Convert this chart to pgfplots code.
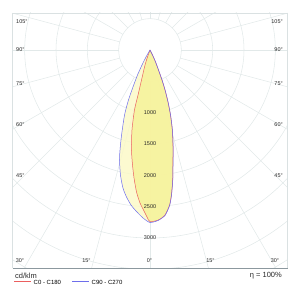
\documentclass[border=0pt]{standalone}
\usepackage{pgfplots}
\pgfplotsset{compat=1.18}
\usepackage{pgfplotstable}
\usepackage{fontspec}
\setmainfont{Liberation Sans}
\definecolor{gridc}{RGB}{226,233,233}
\definecolor{framec}{RGB}{218,225,226}
\definecolor{basec}{RGB}{140,152,158}
\definecolor{redc}{RGB}{235,95,95}
\definecolor{bluec}{RGB}{110,110,235}
\definecolor{paley}{RGB}{251,249,200}
\definecolor{darky}{RGB}{246,242,150}
\definecolor{txt}{RGB}{40,40,40}

% C0 - C180 : negative g = C180 side (left), positive g = C0 side (right)
\pgfplotstableread{
g I
-22 0
-19.7 119
-18.4 252
-15.8 498
-14.9 743
-14.5 989
-12.7 1308
-10.5 1623
-8.65 1856
-7.12 2058
-5.43 2276
-3.74 2447
-2.33 2555
-1.03 2665
0 2740
2.8 2716
5.2 2644
7.2 2493
8.4 2339
9.9 2106
11.8 1793
13.6 1560
15.6 1325
17.5 1088
19.1 878
20.6 682
21.8 516
23.0 347
25.0 200
26.6 90
30 0
}\redtab

% C90 - C270 : negative g = C270 side (left), positive g = C90 side (right)
\pgfplotstableread{
g I
-33 0
-29.7 129
-28.1 271
-26.6 446
-24.7 650
-23.3 869
-21.4 1114
-18.5 1431
-16.7 1666
-15.5 1822
-13.3 2049
-11.1 2244
-9.08 2376
-6.99 2492
-4.97 2579
-2.39 2683
0 2753
2.8 2722
5.2 2650
7.2 2500
8.4 2345
9.9 2112
11.8 1799
13.6 1566
15.6 1330
17.5 1093
19.1 882
20.6 686
21.8 520
23.0 350
25.0 202
26.6 91
30 0
}\bluetab

\def\PX#1{((#1)-150)*15.957}
\def\PY#1{(50-(#1))*15.957}

\begin{document}
\begin{tikzpicture}
\begin{axis}[
  width=300pt, height=298pt, scale only axis,
  xmin=-2393.6, xmax=2393.6, ymin=-3957.4, ymax=797.9,
  hide axis, clip=false,
  legend columns=2,
  legend style={at={(axis cs:{\PX{14}},{\PY{283.5}})}, anchor=west, draw=none, fill=none,
    inner sep=0pt, outer sep=0pt,
    font=\fontsize{6}{7}\selectfont,
    /tikz/every even column/.append style={column sep=9pt}},
]
\path (rel axis cs:0,0) rectangle (rel axis cs:1,1);
\begin{scope}
\clip (axis cs:{\PX{12.5}},{\PY{268}}) rectangle (axis cs:{\PX{287.5}},{\PY{13}});
\pgfplotsinvokeforeach{500,1000,1500,2000,2500,3000,3500,4000,4500,5000}{
  \draw[gridc, line width=0.55pt] (axis cs:0,0) circle[radius=#1];
}
\pgfplotsinvokeforeach{-165,-150,-135,-120,-105,-90,-75,-60,-45,-30,-15,0,15,30,45,60,75,90,105,120,135,150,165,180}{
  \draw[gridc, line width=0.55pt] (axis cs:{500*sin(#1)},{-500*cos(#1)}) -- (axis cs:{6000*sin(#1)},{-6000*cos(#1)});
}
\end{scope}
% frame
\draw[framec, line width=0.6pt] (axis cs:{\PX{12.5}},{\PY{268}}) -- (axis cs:{\PX{12.5}},{\PY{13}}) -- (axis cs:{\PX{287.5}},{\PY{13}}) -- (axis cs:{\PX{287.5}},{\PY{268}});
\draw[basec, line width=0.8pt] (axis cs:{\PX{12.5}},{\PY{268}}) -- (axis cs:{\PX{287.5}},{\PY{268}});

% fills
\addplot[draw=none, fill=paley, fill opacity=0.85, forget plot]
  table[x expr={\thisrow{I}*sin(\thisrow{g})}, y expr={-\thisrow{I}*cos(\thisrow{g})}] {\bluetab};
\addplot[draw=none, fill=darky, fill opacity=0.8, forget plot]
  table[x expr={\thisrow{I}*sin(\thisrow{g})}, y expr={-\thisrow{I}*cos(\thisrow{g})}] {\redtab};
% curves
\addplot[color=redc, line width=0.5pt, smooth, tension=0.4, forget plot]
  table[x expr={\thisrow{I}*sin(\thisrow{g})}, y expr={-\thisrow{I}*cos(\thisrow{g})}] {\redtab};
\addplot[color=bluec, line width=0.5pt, smooth, tension=0.4, forget plot]
  table[x expr={\thisrow{I}*sin(\thisrow{g})}, y expr={-\thisrow{I}*cos(\thisrow{g})}] {\bluetab};
\addlegendimage{legend image code/.code={\draw[draw=redc, line width=0.7pt] (0pt,2pt) -- (17pt,2pt);}}
\addlegendentry{C0 - C180}
\addlegendimage{legend image code/.code={\draw[draw=bluec, line width=0.7pt] (0pt,2pt) -- (17pt,2pt);}}
\addlegendentry{C90 - C270}

% ring labels
\pgfplotsinvokeforeach{1000,1500,2000,2500,3000}{
  \node[txt, font=\fontsize{5.5}{6}\selectfont, inner sep=0pt] at (axis cs:0,{-#1}) {#1};
}
% angle labels, left and right
\begin{scope}[every node/.style={txt, font=\fontsize{5.5}{6}\selectfont, inner sep=0pt}]
\node[anchor=west] at (axis cs:{\PX{16}},{\PY{22}}) {105°};
\node[anchor=west] at (axis cs:{\PX{16}},{\PY{50}}) {90°};
\node[anchor=west] at (axis cs:{\PX{16}},{\PY{84}}) {75°};
\node[anchor=west] at (axis cs:{\PX{16}},{\PY{125}}) {60°};
\node[anchor=west] at (axis cs:{\PX{16}},{\PY{176}}) {45°};
\node[anchor=east] at (axis cs:{\PX{283}},{\PY{22}}) {105°};
\node[anchor=east] at (axis cs:{\PX{283}},{\PY{50}}) {90°};
\node[anchor=east] at (axis cs:{\PX{283}},{\PY{84}}) {75°};
\node[anchor=east] at (axis cs:{\PX{283}},{\PY{125}}) {60°};
\node[anchor=east] at (axis cs:{\PX{283}},{\PY{176}}) {45°};
\node at (axis cs:{\PX{20}},{\PY{261}}) {30°};
\node at (axis cs:{\PX{86.5}},{\PY{261}}) {15°};
\node at (axis cs:{\PX{149.5}},{\PY{261}}) {0°};
\node at (axis cs:{\PX{210.5}},{\PY{261}}) {15°};
\node at (axis cs:{\PX{275}},{\PY{261}}) {30°};
\end{scope}
\node[txt, anchor=west, inner sep=0pt, font=\fontsize{7.5}{8}\selectfont] at (axis cs:{\PX{15}},{\PY{275.5}}) {cd/klm};
\node[txt, anchor=east, inner sep=0pt, font=\fontsize{7.5}{8}\selectfont] at (axis cs:{\PX{282}},{\PY{275.5}}) {η = 100\%};
\end{axis}
\end{tikzpicture}
\end{document}
